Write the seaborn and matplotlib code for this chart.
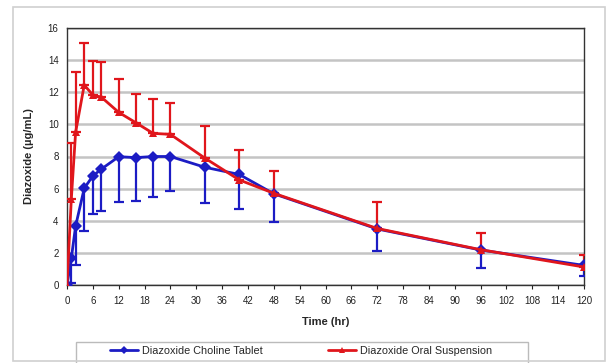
import numpy as np
import pandas as pd
import matplotlib
matplotlib.use("Agg")
import matplotlib.pyplot as plt
import seaborn as sns
from matplotlib.patches import Rectangle

# values (mean and one-sided SD whisker ends)
time_hr = [0, 1, 2, 4, 6, 8, 12, 16, 20, 24, 32, 40, 48, 72, 96, 120]
tablet_mean = [0, 1.66, 3.67, 6.02, 6.79, 7.22, 7.99, 7.93, 8.0, 8.0, 7.33, 6.88, 5.68, 3.49, 2.18, 1.22]
tablet_lower = [0, 0.1, 1.25, 3.36, 4.4, 4.6, 5.15, 5.23, 5.5, 5.87, 5.09, 4.73, 3.94, 2.14, 1.08, 0.54]
susp_mean = [0, 5.34, 9.51, 12.45, 11.83, 11.69, 10.75, 10.1, 9.44, 9.38, 7.9, 6.54, 5.71, 3.52, 2.2, 1.12]
susp_upper = [0, 8.82, 13.28, 15.05, 13.95, 13.87, 12.8, 11.9, 11.56, 11.35, 9.9, 8.38, 7.1, 5.19, 3.26, 1.85]

series_names = ["Diazoxide Choline Tablet", "Diazoxide Oral Suspension"]
x_ticks = list(range(0, 121, 6))
y_ticks = list(range(0, 17, 2))

blue = "#1c1cc4"
red = "#e0161c"

df = pd.DataFrame({
    "Time": time_hr * 2,
    "Conc": tablet_mean + susp_mean,
    "Formulation": [series_names[0]] * len(time_hr) + [series_names[1]] * len(time_hr),
})

sns.set_theme(style="white")
plt.rcParams["font.family"] = ["Liberation Sans", "DejaVu Sans"]

fig = plt.figure(figsize=(6.08, 3.63), dpi=100)
ax = fig.add_axes([67 / 608, 1 - 285 / 363, (584 - 67) / 608, (285 - 28) / 363])

# one-sided error bars: tablet down, suspension up
t = np.array(time_hr)
tm, tl = np.array(tablet_mean), np.array(tablet_lower)
sm, su = np.array(susp_mean), np.array(susp_upper)
ax.errorbar(t, tm, yerr=[tm - tl, np.zeros_like(tm)], fmt="none", ecolor=blue,
            elinewidth=1.6, capsize=3.5, capthick=1.6, zorder=3)
ax.errorbar(t, sm, yerr=[np.zeros_like(sm), su - sm], fmt="none", ecolor=red,
            elinewidth=1.6, capsize=3.5, capthick=1.6, zorder=4)

sns.lineplot(data=df, x="Time", y="Conc", hue="Formulation", style="Formulation",
             palette=[blue, red], markers=["D", "^"], dashes=False,
             markersize=6, markeredgewidth=0, linewidth=2, ax=ax, zorder=5)

ax.set_xlim(0, 120)
ax.set_ylim(0, 16)
ax.set_xticks(x_ticks)
ax.set_yticks(y_ticks)
ax.tick_params(axis="both", labelsize=7, colors="#222222", length=3, width=0.8, direction="out",
               pad=5)
ax.tick_params(axis="y", length=0, pad=6)
ax.xaxis.set_ticks_position("bottom")
ax.yaxis.grid(True, color="#c4c4c4", linewidth=1.8)
ax.set_axisbelow(True)
for s in ax.spines.values():
    s.set_color("#333333")
    s.set_linewidth(1)

ax.set_xlabel("Time (hr)", fontsize=8, fontweight="bold", labelpad=8)
ax.set_ylabel("Diazoxide (\u00b5g/mL)", fontsize=8, fontweight="bold", labelpad=10)

# legend without frame, box drawn separately to match the wide Excel-style legend
ax.get_legend().remove()
handles, labels = ax.get_legend_handles_labels()
fig.legend(handles, labels, loc="center left", bbox_to_anchor=(110 / 608, 1 - 351 / 363),
           ncol=2, fontsize=7.8, frameon=False, borderpad=0, borderaxespad=0,
           handlelength=2.6, handletextpad=0.35, columnspacing=6.0, markerscale=0.7)
fig.patches.append(Rectangle((76 / 608, 1 - 366 / 363), (528 - 76) / 608, (366 - 342) / 363,
                             transform=fig.transFigure, fill=False, edgecolor="#bbbbbb",
                             linewidth=1))

# outer chart border
fig.patches.append(Rectangle((13 / 608, 1 - 361 / 363), (605 - 13) / 608, (361 - 7) / 363,
                             transform=fig.transFigure, fill=False, edgecolor="#d0d0d0",
                             linewidth=1.2))

fig.savefig("out.png", dpi=100)
